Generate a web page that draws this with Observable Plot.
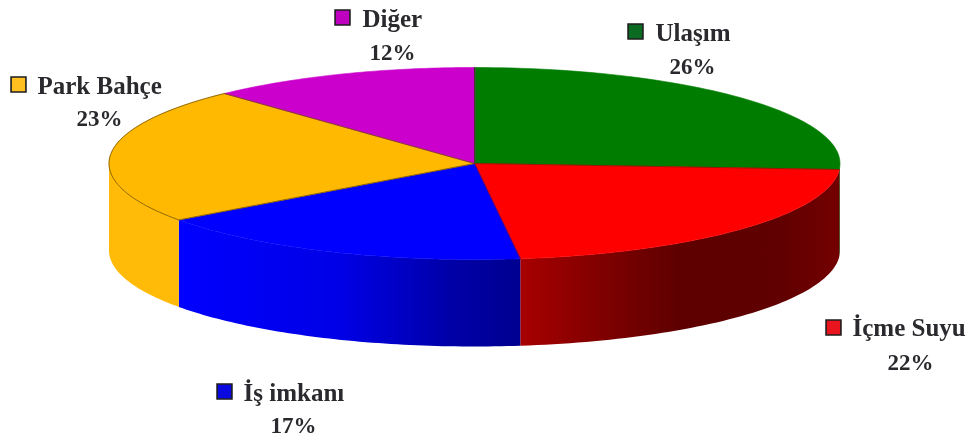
<!DOCTYPE html>
<html>
<head>
<meta charset="utf-8">
<script src="https://cdn.jsdelivr.net/npm/d3@7"></script>
<script src="https://cdn.jsdelivr.net/npm/@observablehq/plot@0.6"></script>
<style>
html,body{margin:0;padding:0;background:#fff;overflow:hidden}
svg{display:block;filter:blur(0.7px)}
</style>
</head>
<body>
<div id="chart"></div>
<script>
// Data
const categories = ["Ulaşım", "İçme Suyu", "İş imkanı", "Park Bahçe", "Diğer"];
const shares = [26, 22, 17, 23, 12];

// Styling
const topColors = ["#007d00", "#ff0000", "#0000ff", "#ffb900", "#cc00cc"];
const wallFills = ["#004400", "url(#wall-red)", "url(#wall-blue)", "#ffbb08", "#660066"];
const markerFills = ["#0b6b22", "#e8141e", "#0a0ae0", "#ffc020", "#c000c0"];

// Layout (pixels of the 976x441 picture)
const W = 976, H = 441;
const cx = 474, cy = 163, rx = 365.5, ry = 96, depth = 87;
const nameAnchors = [[655, 32], [852, 327], [243, 392], [37, 85], [362, 18]];
const markerAnchors = [[635, 31], [833, 327], [224, 391], [18, 84], [342, 17]];
const pctAnchors = [[692, 66], [910, 362], [293, 425], [99, 118], [392, 52]];

// Geometry derived from the shares
const total = d3.sum(shares);
const cum = d3.cumsum(shares);
const startDeg = i => (i === 0 ? 0 : cum[i - 1]) / total * 360;
const endDeg = i => cum[i] / total * 360;
const px = a => cx + rx * Math.sin(a * Math.PI / 180);
const py = (a, z = 0) => cy - ry * Math.cos(a * Math.PI / 180) + z;
const arc = (a0, a1, z = 0) => d3.range(0, 61).map(k => {
  const a = a0 + (a1 - a0) * k / 60;
  return {x: px(a), y: py(a, z)};
});

const tops = [], walls = [], outline = [], seams = [];
categories.forEach((name, i) => {
  const a0 = startDeg(i), a1 = endDeg(i);
  [{x: cx, y: cy}, ...arc(a0, a1)].forEach(p => tops.push({...p, i}));
  const w0 = Math.max(a0, 90), w1 = Math.min(a1, 270);
  if (w1 > w0) {
    [...arc(w0, w1), ...arc(w0, w1, depth).reverse()].forEach(p => walls.push({...p, i}));
  }
});
// dark outline of the gold slice and the radial seams
const gold = 3;
[{x: cx, y: cy}, ...arc(startDeg(gold), endDeg(gold)), {x: cx, y: cy}].forEach(p => outline.push(p));
[[1, "#7a1a00"], [2, "#7a0040"], [0, "#20400a"]].forEach(([i, c]) => {
  const a = startDeg(i);
  seams.push({x: cx, y: cy, c, i}, {x: px(a), y: py(a), c, i});
});

const labelRows = categories.map((name, i) => ({
  name, pct: shares[i] + "%",
  nx: nameAnchors[i][0], ny: nameAnchors[i][1],
  mx: markerAnchors[i][0], my: markerAnchors[i][1],
  px: pctAnchors[i][0], py: pctAnchors[i][1]
}));

const nameFont = {fontFamily: "'Liberation Serif', serif", fontSize: 25, fontWeight: 700, fill: "#2a2a2e"};
const pctFont = {fontFamily: "'Liberation Serif', serif", fontSize: 23, fontWeight: 700, fill: "#2a2a2e"};

const chart = Plot.plot({
  width: W, height: H,
  marginTop: 0, marginRight: 0, marginBottom: 0, marginLeft: 0,
  x: {domain: [0, W], range: [0, W], axis: null},
  y: {domain: [0, H], range: [0, H], axis: null},
  style: {background: "#fff"},
  marks: [
    Plot.line(walls, {x: "x", y: "y", z: "i", fill: d => wallFills[d.i], stroke: "none", curve: "linear-closed"}),
    Plot.line(tops, {x: "x", y: "y", z: "i", fill: d => topColors[d.i], stroke: d => topColors[d.i], strokeWidth: 0.6, curve: "linear-closed"}),
    Plot.line(seams, {x: "x", y: "y", z: "i", stroke: "c", strokeWidth: 1, strokeOpacity: 0.8}),
    Plot.line(outline, {x: "x", y: "y", stroke: "#6e4c00", strokeWidth: 0.9, strokeOpacity: 0.85}),
    Plot.dot(labelRows, {x: "mx", y: "my", symbol: "square", r: 8.4, fill: (d, i) => markerFills[i], stroke: "#1c1c1c", strokeWidth: 1.6}),
    Plot.text(labelRows, {x: "nx", y: "ny", text: "name", textAnchor: "start", ...nameFont}),
    Plot.text(labelRows, {x: "px", y: "py", text: "pct", textAnchor: "middle", ...pctFont})
  ]
});

const gradients = {
  "wall-red": [[520, "#a80000"], [600, "#800000"], [680, "#5e0000"], [780, "#600000"], [839, "#740000"]],
  "wall-blue": [[178, "#0000ff"], [340, "#0000e6"], [450, "#0000a8"], [520, "#000090"]]
};
const svgNS = "http://www.w3.org/2000/svg";
const defs = document.createElementNS(svgNS, "defs");
Object.entries(gradients).forEach(([id, stops]) => {
  const g = document.createElementNS(svgNS, "linearGradient");
  g.setAttribute("id", id);
  g.setAttribute("gradientUnits", "userSpaceOnUse");
  g.setAttribute("x1", stops[0][0]); g.setAttribute("x2", stops[stops.length - 1][0]);
  g.setAttribute("y1", 0); g.setAttribute("y2", 0);
  const x0 = stops[0][0], x1 = stops[stops.length - 1][0];
  stops.forEach(([x, c]) => {
    const s = document.createElementNS(svgNS, "stop");
    s.setAttribute("offset", (x - x0) / (x1 - x0));
    s.setAttribute("stop-color", c);
    g.appendChild(s);
  });
  defs.appendChild(g);
});
chart.insertBefore(defs, chart.firstChild);
document.getElementById("chart").appendChild(chart);
</script>
</body>
</html>
